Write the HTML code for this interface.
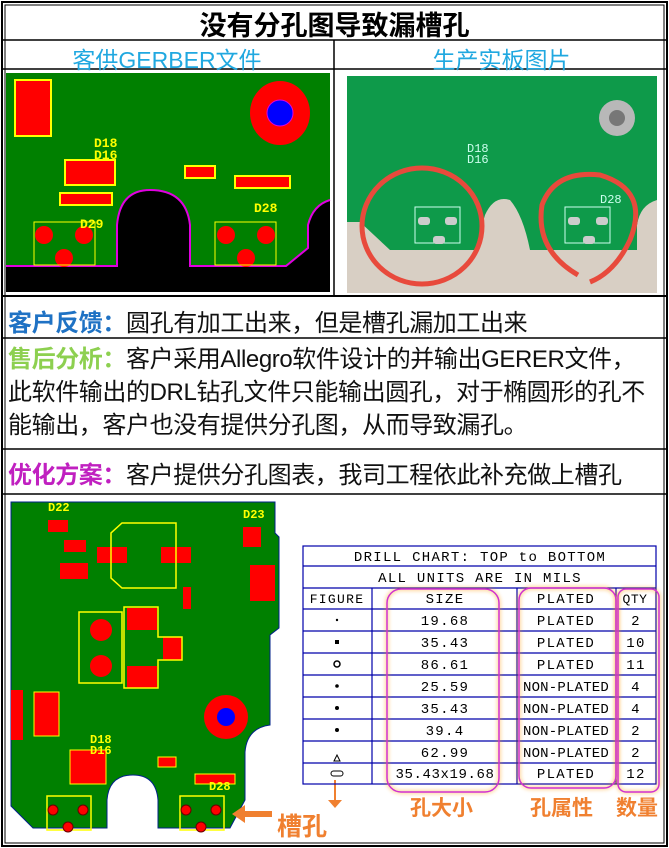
<!DOCTYPE html>
<html><head><meta charset="utf-8"><style>
body{margin:0;background:#fff;width:669px;height:848px;overflow:hidden;position:relative;font-family:"Liberation Sans","Noto Sans CJK SC",sans-serif}
.a{position:absolute}
.t{position:absolute;font-size:24px;white-space:nowrap;color:#111;left:8px;letter-spacing:-0.4px}
</style></head><body>
<svg class="a" style="left:0;top:0" width="669" height="848">
<rect x="2" y="2" width="665" height="844" fill="none" stroke="#000" stroke-width="2"/>
<rect x="5" y="5" width="659" height="838" fill="none" stroke="#000" stroke-width="1"/>
<line x1="3" y1="40" x2="666" y2="40" stroke="#000" stroke-width="1.5"/>
<line x1="3" y1="69" x2="666" y2="69" stroke="#000" stroke-width="1.5"/>
<line x1="334" y1="40" x2="334" y2="296" stroke="#000" stroke-width="1.5"/>
<line x1="3" y1="296" x2="666" y2="296" stroke="#000" stroke-width="2"/>
<line x1="3" y1="338" x2="666" y2="338" stroke="#000" stroke-width="1.5"/>
<line x1="3" y1="449" x2="666" y2="449" stroke="#000" stroke-width="1.5"/>
<line x1="3" y1="494" x2="666" y2="494" stroke="#000" stroke-width="1.5"/>

<!-- left gerber -->
<rect x="6" y="73" width="324" height="219" fill="#000"/>
<path d="M6 73H330V200Q313 205 308 225V248L286 266H190V225Q186 190 150 190Q120 190 117 225V266H6Z" fill="#008000"/>
<path d="M330 200Q313 205 308 225V248L286 266H190V225Q186 190 150 190Q120 190 117 225V266H6" fill="none" stroke="#e000e0" stroke-width="2"/>
<ellipse cx="280" cy="113" rx="30" ry="32" fill="#ff0000"/>
<circle cx="280" cy="113" r="13" fill="#0000ff" stroke="#e000e0"/>
<g fill="#ff0000" stroke="#ff0" stroke-width="2">
<rect x="15" y="80" width="36" height="56"/><rect x="65" y="160" width="50" height="25"/><rect x="60" y="193" width="52" height="12"/><rect x="185" y="166" width="30" height="12"/><rect x="235" y="176" width="55" height="12"/>
</g>
<g fill="#ff0000"><circle cx="44" cy="235" r="9"/><circle cx="84" cy="235" r="9"/><circle cx="64" cy="258" r="9"/><circle cx="226" cy="235" r="9"/><circle cx="266" cy="235" r="9"/><circle cx="246" cy="258" r="9"/></g>
<g fill="none" stroke="#ff0"><rect x="34" y="222" width="61" height="43"/><rect x="215" y="222" width="61" height="43"/></g>
<g fill="#ff0" font-family="Liberation Mono" font-size="13" font-weight="bold"><text x="94" y="147">D18</text><text x="94" y="159">D16</text><text x="254" y="212">D28</text><text x="80" y="228">D29</text></g>

<!-- right photo -->
<rect x="347" y="76" width="310" height="217" fill="#d8cfc4"/>
<path d="M347 76H657V200Q640 205 637 225V250H530Q523 215 510 200Q494 195 485 215L475 250H390L360 222H347Z" fill="#0e9a4a"/>
<circle cx="617" cy="118" r="18" fill="#b8b8b8"/><circle cx="617" cy="118" r="8" fill="#777"/>
<g fill="none" stroke="#e84a3c" stroke-width="5"><ellipse cx="422" cy="226" rx="60" ry="58"/><path d="M578 275Q535 250 542 205Q555 170 600 175Q650 190 630 240Q615 272 590 282"/></g>
<g fill="none" stroke="#cfe"><rect x="415" y="207" width="45" height="36"/><rect x="565" y="207" width="45" height="36"/></g>
<g fill="#ccc"><rect x="418" y="217" width="12" height="8" rx="3"/><rect x="445" y="217" width="12" height="8" rx="3"/><rect x="433" y="236" width="12" height="8" rx="3"/><rect x="568" y="217" width="12" height="8" rx="3"/><rect x="596" y="217" width="12" height="8" rx="3"/><rect x="583" y="236" width="12" height="8" rx="3"/></g>
<g fill="#cfe" font-family="Liberation Mono" font-size="12"><text x="467" y="152">D18</text><text x="467" y="163">D16</text><text x="600" y="203">D28</text></g>

<!-- bottom pcb -->
<path d="M11 502H275V533L279 537V628L270 635V725Q247 728 245 752V800L230 828H158V800Q156 775 133 775Q109 775 107 800V828H33L11 806Z" fill="#008000" stroke="#00208a" stroke-width="1"/>
<g fill="#ff0000"><rect x="97" y="547" width="30" height="16"/><rect x="161" y="547" width="30" height="16"/><rect x="127" y="608" width="30" height="22"/><rect x="127" y="666" width="30" height="22"/><rect x="163" y="637" width="19" height="23"/><circle cx="101" cy="630" r="11"/><circle cx="101" cy="666" r="11"/><circle cx="226" cy="717" r="22"/><rect x="11" y="690" width="12" height="50"/><rect x="48" y="520" width="20" height="12"/><rect x="64" y="540" width="22" height="12"/><rect x="60" y="563" width="28" height="16"/><rect x="243" y="527" width="18" height="20"/><rect x="250" y="565" width="25" height="36"/><rect x="183" y="587" width="8" height="22"/></g>
<circle cx="226" cy="717" r="9" fill="#0000ff"/>
<g fill="none" stroke="#ff0" stroke-width="1.5"><path d="M122 523H176V588H122L111 578V533Z"/><rect x="79" y="612" width="43" height="71"/><path d="M124 607H158V637H182V660H158V688H124Z"/><rect x="47" y="796" width="44" height="34"/><rect x="180" y="796" width="44" height="34"/></g>
<g fill="#ff0000" stroke="#ff0"><rect x="34" y="692" width="25" height="44"/><rect x="70" y="750" width="36" height="34"/><rect x="158" y="757" width="18" height="10"/><rect x="195" y="774" width="40" height="10"/></g>
<g fill="#ff0" font-family="Liberation Mono" font-size="12" font-weight="bold"><text x="48" y="511">D22</text><text x="243" y="518">D23</text><text x="90" y="743">D18</text><text x="90" y="754">D16</text><text x="209" y="790">D28</text></g>
<g fill="#f00" stroke="#600"><circle cx="53" cy="810" r="5"/><circle cx="83" cy="810" r="5"/><circle cx="68" cy="827" r="5"/><circle cx="186" cy="810" r="5"/><circle cx="216" cy="810" r="5"/><circle cx="201" cy="827" r="5"/></g>
<path d="M272 811H245V805L232 814L245 823V817H272Z" fill="#f08030"/>
<path d="M334 780V800H328L335 808L342 800H336V780Z" fill="#f08030"/>

<!-- table -->
<g stroke="#0000aa" stroke-width="1.2" fill="none">
<rect x="303" y="546" width="353" height="238"/>
<line x1="303" y1="566" x2="656" y2="566"/><line x1="303" y1="588" x2="656" y2="588"/>
<line x1="303" y1="609" x2="656" y2="609"/><line x1="303" y1="631" x2="656" y2="631"/><line x1="303" y1="653" x2="656" y2="653"/><line x1="303" y1="675" x2="656" y2="675"/><line x1="303" y1="697" x2="656" y2="697"/><line x1="303" y1="719" x2="656" y2="719"/><line x1="303" y1="741" x2="656" y2="741"/><line x1="303" y1="763" x2="656" y2="763"/>
<line x1="372" y1="588" x2="372" y2="784"/><line x1="517" y1="588" x2="517" y2="784"/><line x1="616" y1="588" x2="616" y2="784"/>
</g>
<g fill="none" stroke="#d030d0" stroke-width="1.5" style="filter:drop-shadow(0 0 2px #f90)">
<rect x="387" y="589" width="112" height="203" rx="14"/><rect x="519" y="588" width="97" height="200" rx="12"/><rect x="618" y="589" width="41" height="203" rx="8"/>
</g>
<g font-family="Liberation Mono" font-size="14" fill="#000" text-anchor="middle" letter-spacing="1.3">
<text x="480" y="561">DRILL CHART: TOP to BOTTOM</text><text x="480" y="582">ALL UNITS ARE IN MILS</text>
<text x="337" y="603" font-size="13">FIGURE</text><text x="445" y="603">SIZE</text><text x="566" y="603">PLATED</text><text x="635" y="603" font-size="13" letter-spacing="0.5">QTY</text>
<text x="445" y="625">19.68</text><text x="445" y="647">35.43</text><text x="445" y="669">86.61</text><text x="445" y="691">25.59</text><text x="445" y="713">35.43</text><text x="445" y="735">39.4</text><text x="445" y="757">62.99</text><text x="445" y="778" letter-spacing="0.6">35.43x19.68</text>
<text x="566" y="625">PLATED</text><text x="566" y="647">PLATED</text><text x="566" y="669">PLATED</text><text x="566" y="691" letter-spacing="0.2">NON-PLATED</text><text x="566" y="713" letter-spacing="0.2">NON-PLATED</text><text x="566" y="735" letter-spacing="0.2">NON-PLATED</text><text x="566" y="757" letter-spacing="0.2">NON-PLATED</text><text x="566" y="778">PLATED</text>
<text x="636" y="625">2</text><text x="636" y="647">10</text><text x="636" y="669">11</text><text x="636" y="691">4</text><text x="636" y="713">4</text><text x="636" y="735">2</text><text x="636" y="757">2</text><text x="636" y="778">12</text>
</g>
<g fill="#000"><circle cx="337" cy="620" r="1.2"/><rect x="335" y="640" width="4" height="4"/><circle cx="337" cy="664" r="3" fill="none" stroke="#000" stroke-width="1.5"/><circle cx="337" cy="686" r="1.8"/><circle cx="337" cy="708" r="2"/><circle cx="337" cy="730" r="2"/><path d="M334 761L337 755L340 761Z" fill="none" stroke="#000"/><rect x="331" y="771" width="12" height="5" rx="2.5" fill="none" stroke="#000"/></g>
<g fill="#f08030" font-size="21" font-weight="bold" font-family="Liberation Sans,Noto Sans CJK SC,sans-serif">
<text x="410" y="815">孔大小</text><text x="530" y="815">孔属性</text><text x="616" y="815">数量</text><text x="277" y="835" font-size="25">槽孔</text></g>
</svg>
<div class="a" style="left:0;width:669px;top:4px;text-align:center;font-size:27px;font-weight:bold">没有分孔图导致漏槽孔</div>
<div class="a" style="left:0;width:334px;top:41px;text-align:center;font-size:23px;color:#20a8e0">客供GERBER文件</div>
<div class="a" style="left:334px;width:335px;top:41px;text-align:center;font-size:23px;color:#20a8e0">生产实板图片</div>
<div class="t" style="top:303px"><b style="color:#1f72c4">客户反馈：</b>圆孔有加工出来，但是槽孔漏加工出来</div>
<div class="t" style="top:343px;line-height:33px"><b style="color:#8dd050">售后分析：</b>客户采用Allegro软件设计的并输出GERER文件，<br>此软件输出的DRL钻孔文件只能输出圆孔，对于椭圆形的孔不<br>能输出，客户也没有提供分孔图，从而导致漏孔。</div>
<div class="t" style="top:455px"><b style="color:#c020c0">优化方案：</b>客户提供分孔图表，我司工程依此补充做上槽孔</div>
</body></html>
